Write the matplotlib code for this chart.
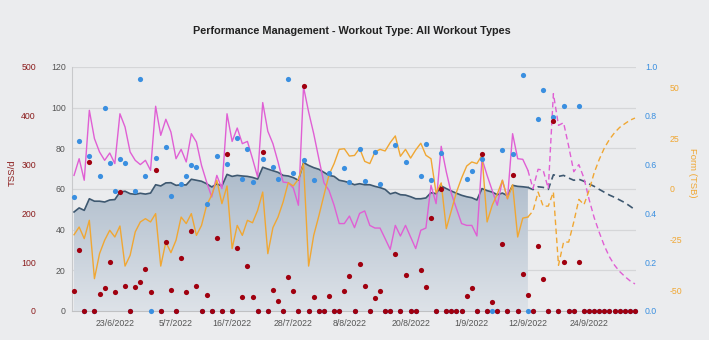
import numpy as np
import pandas as pd
import matplotlib
matplotlib.use("Agg")
import matplotlib.pyplot as plt
from matplotlib.colors import LinearSegmentedColormap
from matplotlib.patches import PathPatch

plt.rcParams["font.family"] = ["Liberation Sans", "DejaVu Sans"]
plt.rcParams["axes.unicode_minus"] = False

# daily values, day 0 = 15/6/2022; days 89 onwards are the planned forecast
start = pd.Timestamp("2022-06-15")
today = 89

tss = [40, 124, 0, 305, 0, 34, 48, 100, 39, 244,
       51, 0, 49, 59, 87, 39, 288, 0, 141, 44,
       0, 109, 38, 163, 51, 0, 32, 0, 150, 0,
       322, 0, 129, 29, 92, 29, 0, 326, 0, 44,
       20, 0, 70, 42, 0, 462, 0, 28, 0, 0,
       31, 0, 0, 42, 71, 0, 97, 51, 0, 27,
       42, 0, 0, 117, 0, 73, 0, 0, 83, 49,
       191, 0, 249, 0, 0, 0, 0, 30, 47, 0,
       322, 0, 18, 0, 138, 0, 279, 0, 76, 33,
       0, 133, 66, 0, 389, 0, 100, 0, 0, 100,
       0, 0, 0, 0, 0, 0, 0, 0, 0, 0, 0]

intensity = [0.467, 0.695, 0, 0.635, 0, 0.553, 0.833, 0.608, 0.49, 0.622,
             0.608, 0, 0.49, 0.949, 0.553, 0, 0.627, 0, 0.672, 0.471,
             0, 0.522, 0.553, 0.6, 0.59, 0, 0.437, 0, 0.635, 0,
             0.601, 0, 0.709, 0.54, 0.663, 0.529, 0, 0.624, 0, 0.59,
             0.54, 0, 0.949, 0.566, 0, 0.62, 0, 0.536, 0, 0,
             0.567, 0, 0, 0.586, 0.529, 0, 0.665, 0.533, 0, 0.652,
             0.519, 0, 0, 0.679, 0, 0.611, 0, 0, 0.553, 0.686,
             0.536, 0, 0.649, 0, 0, 0, 0, 0.54, 0.574, 0,
             0.624, 0, 0, 0, 0.658, 0, 0.645, 0, 0.966, 0,
             0, 0.786, 0.907, 0, 0.795, 0, 0.84, 0, 0, 0.84,
             0, 0, 0, 0, 0, 0, 0, 0, 0, 0, 0]

ctl = [48.7, 50.7, 49.5, 55.2, 54.0, 54.0, 53.6, 54.6, 54.8, 58.5,
       58.9, 57.7, 57.4, 57.9, 57.5, 58.0, 62.1, 61.5, 63.0, 63.1,
       61.8, 62.1, 62.0, 64.8, 64.3, 63.8, 62.6, 61.0, 62.5, 61.5,
       67.2, 66.2, 66.7, 66.4, 66.2, 65.7, 64.9, 70.7, 69.8, 69.0,
       68.2, 66.7, 66.4, 65.6, 64.3, 73.0, 71.6, 70.5, 69.7, 68.2,
       66.7, 66.2, 64.3, 63.8, 63.1, 62.1, 62.6, 62.1, 62.1, 61.3,
       60.7, 59.8, 57.6, 58.3, 57.2, 57.0, 56.2, 55.2, 55.2, 55.6,
       58.2, 57.7, 61.5, 60.2, 59.0, 57.9, 56.9, 56.2, 55.7, 54.6,
       60.2, 59.2, 58.5, 57.2, 58.0, 56.7, 61.8, 61.3, 61.1, 60.8,
       59.7, 61.1, 60.8, 59.8, 67.0, 66.2, 66.7, 65.4, 64.3, 64.8,
       63.8, 62.5, 61.3, 59.8, 58.4, 57.0, 55.9, 54.6, 53.3, 51.6, 49.8]

atl = [66.7, 74.9, 64.3, 98.7, 84.8, 78.2, 74.1, 77.7, 72.5, 97.0,
       90.5, 78.2, 74.1, 72.0, 74.1, 69.2, 100.7, 86.4, 94.3, 88.0,
       74.9, 79.5, 73.3, 87.2, 83.1, 71.6, 63.4, 56.1, 66.7, 60.2,
       97.0, 83.4, 90.0, 82.3, 83.4, 74.9, 65.9, 102.5, 88.4, 82.3,
       73.3, 63.4, 63.1, 60.5, 52.0, 110.2, 97.9, 87.2, 75.0, 63.1,
       59.3, 52.0, 43.0, 43.0, 46.7, 41.0, 48.0, 49.2, 42.1, 40.8,
       40.8, 35.6, 30.3, 42.1, 36.9, 42.1, 36.4, 30.7, 39.7, 40.8,
       61.8, 52.8, 81.0, 68.4, 57.7, 50.3, 43.0, 42.1, 42.1, 36.9,
       74.9, 66.7, 59.3, 52.0, 64.3, 55.2, 87.2, 74.9, 74.6, 69.2,
       60.2, 69.7, 69.2, 60.2, 106.9, 91.3, 92.6, 81.0, 68.5, 72.0,
       65.3, 54.9, 45.9, 38.6, 32.0, 26.6, 22.5, 19.4, 17.0, 14.9, 13.3]

tsb = [-22.5, -18.7, -24.4, -15.4, -44.1, -31.8, -25.2, -20.3, -23.6, -18.2,
       -37.9, -32.6, -21.1, -16.2, -14.6, -16.2, -12.1, -37.9, -26.1, -31.3,
       -25.2, -13.8, -17.0, -12.1, -22.8, -17.9, -8.0, -3.0, 4.3, -7.2,
       1.5, -29.3, -17.9, -22.8, -15.4, -16.6, -10.5, -1.5, -31.8, -19.0,
       -13.8, -6.4, 3.1, 1.5, 4.8, 12.5, -37.9, -22.8, -13.3, -3.1,
       7.0, 12.5, 19.5, 19.8, 16.2, 16.5, 20.0, 13.6, 12.5, 18.2,
       19.5, 18.7, 22.8, 26.1, 16.1, 19.5, 15.2, 19.2, 22.5, 16.6,
       14.9, -2.0, 3.0, -19.5, -10.5, -1.5, 5.4, 11.3, 13.3, 12.5,
       16.6, -16.2, -8.0, -2.5, 4.3, -4.8, 2.1, -23.6, -14.3, -13.8,
       -10.8, -1.5, -8.5, -8.4, -1.5, -37.5, -26.1, -26.1, -16.2, -5.1,
       -7.7, -0.7, 8.0, 14.6, 20.2, 24.4, 27.7, 30.3, 32.1, 33.8, 34.9]

tick_dates = ["2022-06-23", "2022-07-05", "2022-07-16", "2022-07-28", "2022-08-08",
              "2022-08-20", "2022-09-01", "2022-09-12", "2022-09-24"]

bg = "#ebecee"
c_ctl = "#3e5870"
c_atl = "#e05fd4"
c_tsb = "#f0a733"
c_if = "#3a8fe0"
c_tss = "#a0000f"

days = np.arange(len(tss))
ctl = np.array(ctl)
atl = np.array(atl)
tsb = np.array(tsb)

fig = plt.figure(figsize=(7.09, 3.40), dpi=100, facecolor=bg)
W, H = 709, 340
ax = fig.add_axes([72 / W, (H - 311) / H, (636 - 72) / W, (311 - 67) / H])
ax.set_facecolor(bg)

# fitness area with a vertical gradient
poly = ax.fill_between(days[:today + 1], ctl[:today + 1], 0, color="none", lw=0)
cmap = LinearSegmentedColormap.from_list("fit", ["#dde2e8", "#a9b8c8"])
grad = np.linspace(0, 1, 256).reshape(-1, 1)
im = ax.imshow(grad, extent=[-0.4, 110.2, 0, 75], origin="lower", aspect="auto",
               cmap=cmap, zorder=1, interpolation="bilinear")
clip = PathPatch(poly.get_paths()[0], transform=ax.transData, facecolor="none", edgecolor="none")
ax.add_patch(clip)
im.set_clip_path(clip)
ax.set_ylim(0, 120)
ax.set_xlim(-0.4, 110.2)

ax.plot(days[:today + 1], ctl[:today + 1], color=c_ctl, lw=1.2, zorder=3)
ax.plot(days[today:], ctl[today:], color=c_ctl, lw=1.2, dashes=(4, 2.5), zorder=3)
ax.plot(days[:today + 1], atl[:today + 1], color=c_atl, lw=1.0, zorder=3)
ax.plot(days[today:], atl[today:], color=c_atl, lw=1.0, dashes=(4, 2.5), zorder=3)

ax.set_yticks([0, 20, 40, 60, 80, 100, 120])
ax.grid(axis="y", color="#d5d6d8", lw=0.9)
ax.set_axisbelow(True)
for s in ["top", "right"]:
    ax.spines[s].set_visible(False)
ax.spines["left"].set_color("#c8c9cb")
ax.spines["bottom"].set_color("#c0c1c3")
ax.tick_params(axis="y", length=0, pad=4.5, labelsize=6.3, labelcolor="#555555")
ax.tick_params(axis="x", length=0, pad=6, labelsize=6.3, labelcolor="#555555")

tick_days = [(pd.Timestamp(d) - start).days for d in tick_dates]
ax.set_xticks(tick_days)
ax.set_xticklabels([f"{pd.Timestamp(d).day}/{pd.Timestamp(d).month}/{pd.Timestamp(d).year}"
                    for d in tick_dates])

# form (TSB) axis, right side
ax_f = ax.twinx()
ax_f.set_ylim(-60, 60)
ax_f.plot(days[:today + 1], tsb[:today + 1], color=c_tsb, lw=1.0, zorder=3)
ax_f.plot(days[today:], tsb[today:], color=c_tsb, lw=1.0, dashes=(4, 2.5), zorder=3)
ax_f.set_yticks([-50, -25, 0, 25, 50])
ax_f.tick_params(axis="y", length=0, pad=24, labelsize=6.3, labelcolor=c_tsb)
for s in ax_f.spines.values():
    s.set_visible(False)

# intensity factor axis, right side
ax_i = ax.twinx()
ax_i.set_ylim(0, 1.0)
ax_i.scatter(days, intensity, s=14, color=c_if, lw=0, zorder=4, clip_on=False)
ax_i.set_yticks([0, 0.2, 0.4, 0.6, 0.8, 1.0])
ax_i.set_yticklabels(["0.0", "0.2", "0.4", "0.6", "0.8", "1.0"])
ax_i.tick_params(axis="y", length=0, pad=6.5, labelsize=6.3, labelcolor=c_if)
for s in ax_i.spines.values():
    s.set_visible(False)

# TSS axis, far left
ax_t = ax.twinx()
ax_t.set_ylim(0, 500)
ax_t.scatter(days, tss, s=14, color=c_tss, lw=0, zorder=5, clip_on=False)
ax_t.yaxis.tick_left()
ax_t.set_yticks([0, 100, 200, 300, 400, 500])
ax_t.tick_params(axis="y", length=0, pad=26, labelsize=6.3, labelcolor="#8b1c1c")
for s in ax_t.spines.values():
    s.set_visible(False)

fig.text(352 / W, 1 - 31 / H, "Performance Management - Workout Type: All Workout Types",
         ha="center", va="center", fontsize=7.8, fontweight="bold", color="#222222")
fig.text(12 / W, 1 - 173 / H, "TSS/d", rotation=90, ha="center", va="center",
         fontsize=6.8, color="#8b1c1c")
fig.text(693 / W, 1 - 173 / H, "Form (TSB)", rotation=-90, ha="center", va="center",
         fontsize=6.8, color=c_tsb)

fig.savefig("out.png", dpi=100, facecolor=bg)
